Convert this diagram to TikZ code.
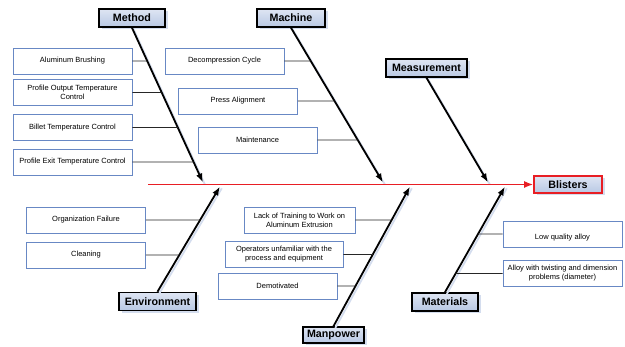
\documentclass[tikz,border=0pt]{standalone}
\usepackage{fontspec}
\setmainfont{Liberation Sans}
\usetikzlibrary{arrows.meta,shadows}

\definecolor{catTop}{RGB}{222,229,243}
\definecolor{catBot}{RGB}{184,200,228}
\definecolor{shade}{RGB}{212,221,238}
\definecolor{boxblue}{RGB}{104,136,196}
\definecolor{spinered}{RGB}{232,30,36}

\begin{document}
\begin{tikzpicture}[x=1pt,y=-1pt,
  category/.style={draw=black, line width=1.6pt, top color=catTop, bottom color=catBot,
    font=\bfseries\fontsize{10.7}{12}\selectfont, minimum height=18pt, inner sep=0pt,
    drop shadow={shadow xshift=2.5pt, shadow yshift=-2.5pt, fill=shade, opacity=1}},
  cause/.style={draw=boxblue, line width=0.8pt, fill=white, align=center,
    font=\fontsize{7.5}{9}\selectfont, minimum width=119pt, minimum height=26pt, inner sep=1pt},
  bone/.style={line width=1.8pt, -{Latex[length=9pt,width=6.5pt]}},
  boneshadow/.style={line width=1.8pt, draw=shade, transform canvas={shift={(1.8pt,-1.8pt)}}},
  twig/.style={line width=0.8pt, draw=black!85},
  spine/.style={line width=1.4pt, draw=spinered, -{Latex[length=9pt,width=7pt,fill=spinered]}},
]
\useasboundingbox (0,0) rectangle (625,347);

% category heads
\node[category, minimum width=66pt] (method) at (132,18) {Method};
\node[category, minimum width=68pt] (machine) at (291,18) {Machine};
\node[category, minimum width=81pt] (measure) at (426.5,68) {Measurement};
\node[category, minimum width=77pt] (environ) at (157.5,301.5) {Environment};
\node[category, minimum width=61pt, minimum height=16pt] (manpower) at (333.5,335) {Manpower};
\node[category, minimum width=66pt] (materials) at (445,302) {Materials};
\node[category, draw=spinered, line width=1.8pt, minimum width=68pt, minimum height=17pt] (blisters) at (568,184.5) {Blisters};

% where each bone meets the spine
\coordinate (tMethod) at (203,182.5);
\coordinate (tMachine) at (383,182.5);
\coordinate (tMeasure) at (488,182.5);
\coordinate (tEnv) at (220,186.5);
\coordinate (tMan) at (410,186.5);
\coordinate (tMat) at (505,186.5);
\coordinate (tail) at (148,184.5);

% soft shadows under the bones
\draw[boneshadow] (method.south) -- (tMethod);
\draw[boneshadow] (machine.south) -- (tMachine);
\draw[boneshadow] (measure.south) -- (tMeasure);
\draw[boneshadow] (environ.north) -- (tEnv);
\draw[boneshadow] (manpower.north) -- (tMan);
\draw[boneshadow] (materials.north) -- (tMat);

% spine
\draw[spine] (tail) -- (blisters.west);

% bones
\draw[bone] (method.south) -- (tMethod);
\draw[bone] (machine.south) -- (tMachine);
\draw[bone] (measure.south) -- (tMeasure);
\draw[bone] (environ.north) -- (tEnv);
\draw[bone] (manpower.north) -- (tMan);
\draw[bone] (materials.north) -- (tMat);

% causes: Method
\node[cause] (a1) at (72.5,61) {Aluminum Brushing};
\node[cause] (a2) at (72.5,92.5) {Profile Output Temperature\\Control};
\node[cause] (a3) at (72.5,127.5) {Billet Temperature Control};
\node[cause] (a4) at (72.5,162) {Profile Exit Temperature Control};
% causes: Machine
\node[cause] (b1) at (224.5,61) {Decompression Cycle};
\node[cause] (b2) at (238,101) {Press Alignment};
\node[cause] (b3) at (257.5,140) {Maintenance};
% causes: Environment
\node[cause] (e1) at (86,220) {Organization Failure};
\node[cause] (e2) at (86,255) {Cleaning};
% causes: Manpower
\node[cause, minimum width=111pt] (p1) at (299.5,220) {Lack of Training to Work on\\Aluminum Extrusion};
\node[cause, minimum width=118pt] (p2) at (284,254.5) {Operators unfamiliar with the\\process and equipment};
\node[cause] (p3) at (277.5,286) {Demotivated};
% causes: Materials
\node[cause] (m1) at (562.5,234) {\raisebox{-4pt}[0.7em][0.2em]{Low quality alloy}};
\node[cause] (m2) at (562.5,273.5) {Alloy with twisting and dimension\\problems (diameter)};

% twigs from each cause to its bone (causes left of their bone)
\foreach \c/\b/\t in {a1/method.south/tMethod, a2/method.south/tMethod,
                     a3/method.south/tMethod, a4/method.south/tMethod,
                     b1/machine.south/tMachine, b2/machine.south/tMachine,
                     b3/machine.south/tMachine,
                     e1/environ.north/tEnv, e2/environ.north/tEnv,
                     p1/manpower.north/tMan, p2/manpower.north/tMan,
                     p3/manpower.north/tMan}
  \draw[twig] (\c.east) -- (intersection cs:first line={(\b)--(\t)},second line={(\c.east)--(\c.west)});
% causes right of their bone
\foreach \c/\b/\t in {m1/materials.north/tMat, m2/materials.north/tMat}
  \draw[twig] (\c.west) -- (intersection cs:first line={(\b)--(\t)},second line={(\c.east)--(\c.west)});
\end{tikzpicture}
\end{document}
